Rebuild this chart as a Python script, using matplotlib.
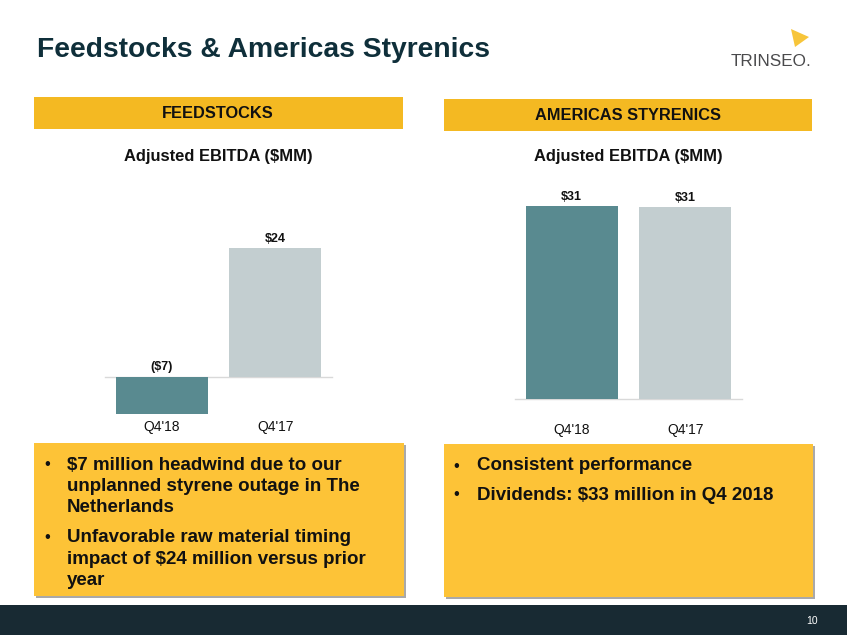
import matplotlib.pyplot as plt
from matplotlib.patches import Rectangle, Polygon

# data
categories = ["Q4'18", "Q4'17"]
feedstocks_ebitda = [-7, 24]
styrenics_ebitda = [31.1, 30.9]
bar_colors = ["#598A90", "#C3CED0"]

left_bullets = [
    ["$7 million headwind due to our", "unplanned styrene outage in The", "Netherlands"],
    ["Unfavorable raw material timing", "impact of $24 million versus prior", "year"],
]
right_bullets = [
    ["Consistent performance"],
    ["Dividends: $33 million in Q4 2018"],
]

plt.rcParams['font.family'] = ['Liberation Sans', 'DejaVu Sans']

W, H = 847, 635
fig = plt.figure(figsize=(W / 100, H / 100), dpi=100)

# background axes in pixel coordinates
bg = fig.add_axes([0, 0, 1, 1])
bg.set_xlim(0, W)
bg.set_ylim(H, 0)
bg.axis('off')
bg.set_zorder(0)


def px_axes(x0, y0, x1, y1):
    # axes from pixel box (top-left origin)
    return fig.add_axes([x0 / W, 1 - y1 / H, (x1 - x0) / W, (y1 - y0) / H])


# title and logo
bg.text(37, 50, "Feedstocks & Americas Styrenics", fontsize=20.3, fontweight='bold',
        color='#0F2F3A', va='center', ha='left')
bg.text(771, 61, "TRINSEO.", fontsize=12.3, color='#4A4A4C', va='center', ha='center')
bg.add_patch(Polygon([(791, 29), (809, 37), (795, 47)], closed=True,
                     facecolor='#F7C53A', edgecolor='none'))

# section headers
bg.add_patch(Rectangle((34, 97), 369, 32, facecolor='#F4B922', edgecolor='none'))
bg.text(218, 113, "FEEDSTOCKS", fontsize=11.8, fontweight='bold', color='#111111',
        ha='center', va='center')
bg.add_patch(Rectangle((444, 99), 368, 32, facecolor='#F4B922', edgecolor='none'))
bg.text(628, 115, "AMERICAS STYRENICS", fontsize=11.8, fontweight='bold', color='#111111',
        ha='center', va='center')

bg.text(218, 156, "Adjusted EBITDA ($MM)", fontsize=11.9, fontweight='bold', color='#111111',
        ha='center', va='center')
bg.text(628, 156, "Adjusted EBITDA ($MM)", fontsize=11.9, fontweight='bold', color='#111111',
        ha='center', va='center')


def fmt(v):
    return f"(${abs(v):.0f})" if v < 0 else f"${v:.0f}"


def bar_chart(ax, values, label_pad):
    x = list(range(len(categories)))
    ax.bar(x, values, width=0.81, color=bar_colors, zorder=2)
    ax.axhline(0, color='#D9D9D9', lw=1, zorder=1, clip_on=False)
    ax.set_xlim(-0.5, 1.5)
    for xi, v in zip(x, values):
        ax.annotate(fmt(v), (xi, max(v, 0)), xytext=(0, 2.5), textcoords='offset points',
                    ha='center', va='bottom', fontsize=9, fontweight='bold', color='#111111')
    ax.set_xticks(x, categories)
    ax.tick_params(axis='x', length=0, pad=label_pad, labelsize=10, labelcolor='#111111')
    ax.set_yticks([])
    for s in ax.spines.values():
        s.set_visible(False)
    ax.patch.set_alpha(0)


ax1 = px_axes(105, 248, 332, 414)
ax1.set_ylim(min(feedstocks_ebitda), max(feedstocks_ebitda))
bar_chart(ax1, feedstocks_ebitda, 4.5)

ax2 = px_axes(515, 206, 742, 399)
ax2.set_ylim(0, max(styrenics_ebitda))
bar_chart(ax2, styrenics_ebitda, 17)

# text boxes
box_color = '#FDC337'
for bx, by, bw, bh in [(34, 443, 370, 153), (444, 444, 369, 153)]:
    bg.add_patch(Rectangle((bx + 2, by + 2), bw, bh, facecolor='#A9A9A9', edgecolor='none'))
    bg.add_patch(Rectangle((bx, by), bw, bh, facecolor=box_color, edgecolor='none'))


def bullets(items, x_bullet, x_text, y0, line_h, gap):
    y = y0
    for lines in items:
        bg.text(x_bullet, y, "\u2022", fontsize=12, color='#111111', ha='center', va='center')
        for ln in lines:
            bg.text(x_text, y, ln, fontsize=13.5, fontweight='bold', color='#111111',
                    ha='left', va='center')
            y += line_h
        y += gap


bullets(left_bullets, 47, 67, 465, 21.5, 8)
bullets(right_bullets, 456, 477, 466, 21.5, 7.5)

# footer
bg.add_patch(Rectangle((0, 605), W, 30, facecolor='#182A33', edgecolor='none'))
bg.text(818, 621, "10", fontsize=7.5, color='white', ha='right', va='center')

fig.savefig("out.png", dpi=100)
